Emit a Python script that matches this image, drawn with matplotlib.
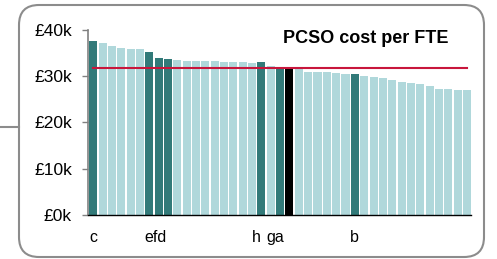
import matplotlib.pyplot as plt
from matplotlib.patches import FancyBboxPatch
from matplotlib.lines import Line2D
from matplotlib.transforms import IdentityTransform

plt.rcParams['font.family'] = ['Liberation Sans', 'DejaVu Sans']

# PCSO cost per FTE, in £k, sorted high to low
cost_k = [37.6, 37.0, 36.4, 36.0, 35.7, 35.7, 35.1, 33.9, 33.6, 33.4,
          33.2, 33.2, 33.2, 33.2, 33.1, 33.1, 33.0, 32.8, 32.9, 32.1,
          32.0, 31.8, 31.4, 30.9, 30.9, 30.9, 30.7, 30.5, 30.4, 30.0,
          29.8, 29.5, 29.1, 28.7, 28.4, 28.3, 27.9, 27.2, 27.2, 26.9, 26.9]
highlight = [0, 6, 7, 8, 18, 20, 28]
selected = 21
average_k = 31.8

labels = ["c", "efd", "h", "ga", "b"]
label_pos = [0, 6.67, 17.4, 19.5, 28]
yticks = [0, 10, 20, 30, 40]

light = "#B0D8DB"
dark = "#327A79"

colors = []
for i in range(len(cost_k)):
    if i == selected:
        colors.append("black")
    elif i in highlight:
        colors.append(dark)
    else:
        colors.append(light)

fig = plt.figure(figsize=(4.97, 2.59), dpi=100)
ax = fig.add_axes([0.177, 0.170, 0.771, 0.716])

x = range(len(cost_k))
ax.bar(x, cost_k, width=0.86, color=colors)
ax.plot([0, len(cost_k) - 1], [average_k, average_k], color="#C8163C", linewidth=1.5)

ax.set_xlim(-0.57, 40.45)
ax.set_ylim(0, 40)
ax.set_yticks(yticks)
ax.set_yticklabels(["£%dk" % v for v in yticks], fontsize=12.5)
ax.set_xticks(label_pos)
ax.set_xticklabels(labels, fontsize=11.5)
ax.tick_params(axis="x", length=0, pad=11)
ax.tick_params(axis="y", length=4.5, width=1, color="#808080", pad=7)

for s in ["top", "right"]:
    ax.spines[s].set_visible(False)
ax.spines["left"].set_color("#808080")
ax.spines["left"].set_linewidth(1.2)
ax.spines["bottom"].set_color("black")
ax.spines["bottom"].set_linewidth(1)

ax.text(0.726, 0.953, "PCSO cost per FTE", transform=ax.transAxes,
        ha="center", va="center", fontsize=13, fontweight="bold")

# rounded frame and connector line, in pixels
box = FancyBboxPatch((19, 2), 465, 252,
                     boxstyle="round,pad=0,rounding_size=20",
                     transform=IdentityTransform(), fill=False,
                     edgecolor="#8C8C8C", linewidth=1.5)
fig.patches.append(box)
fig.lines.append(Line2D([0, 19], [132, 132], transform=IdentityTransform(),
                        color="#8C8C8C", linewidth=1.5))

fig.savefig("out.png", dpi=100)
